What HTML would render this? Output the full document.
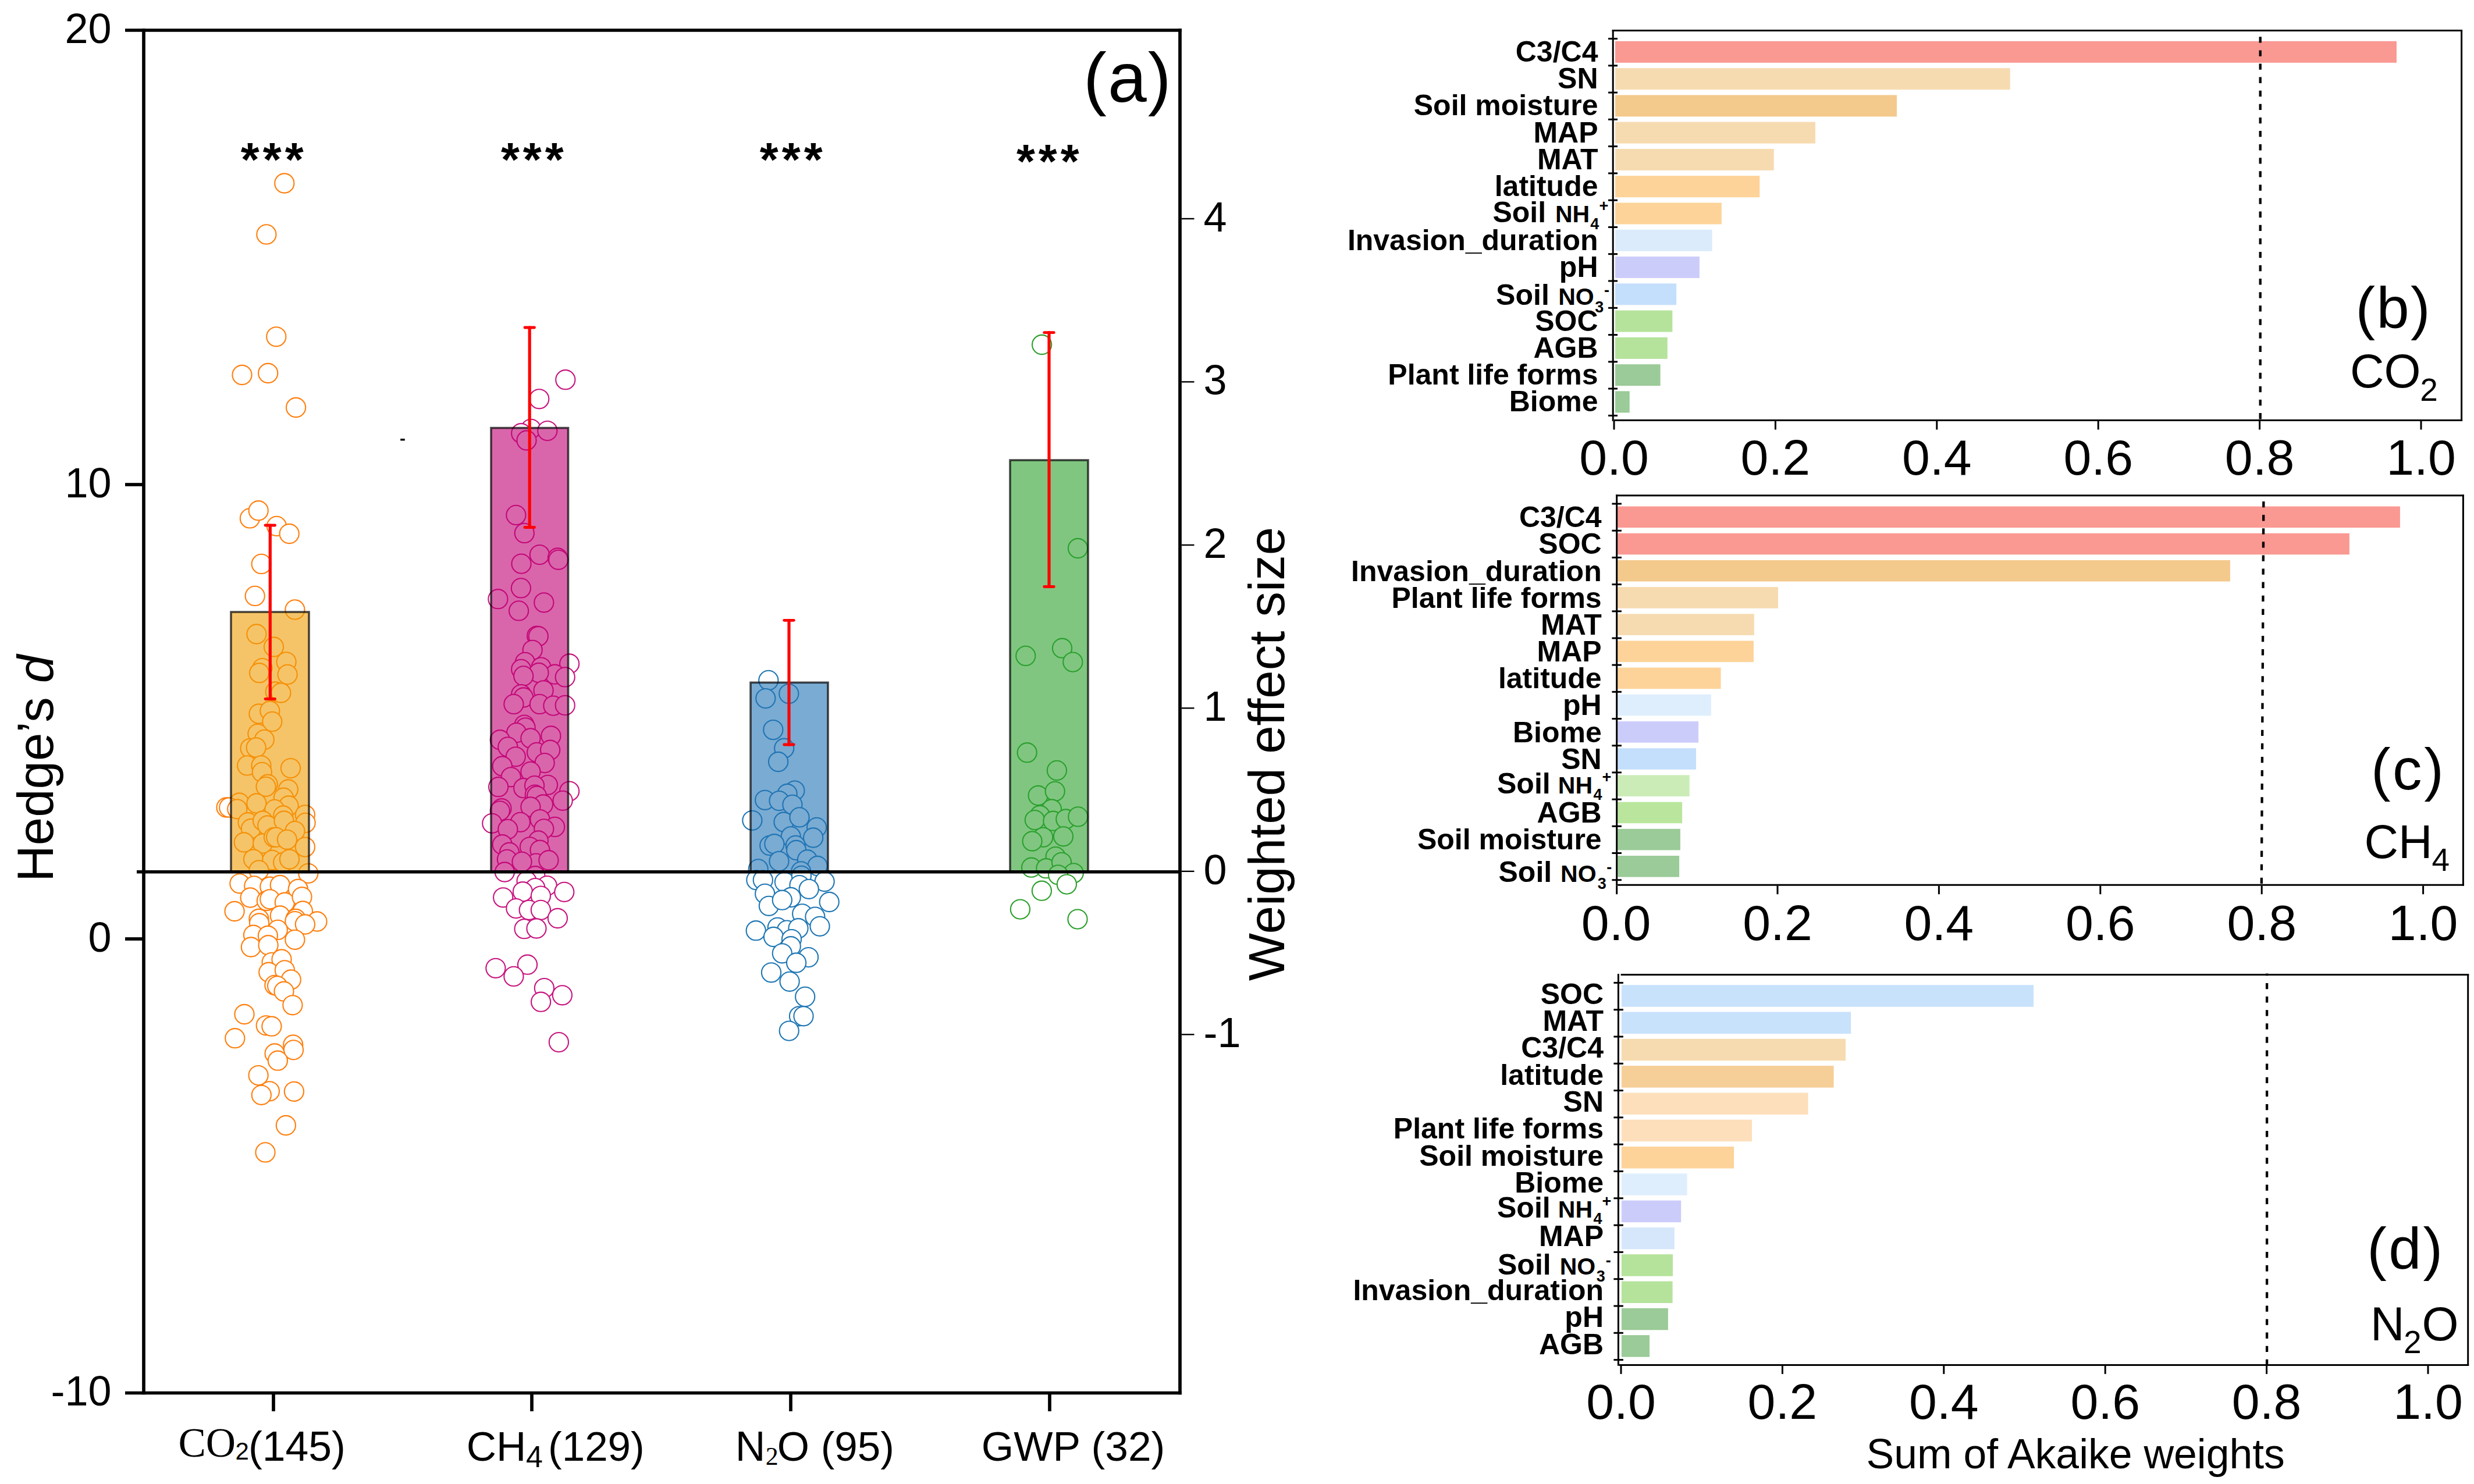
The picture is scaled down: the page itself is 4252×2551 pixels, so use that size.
<!DOCTYPE html>
<html><head><meta charset="utf-8"><title>Figure</title>
<style>
html,body{margin:0;padding:0;background:#fff;}
body{width:4252px;height:2551px;overflow:hidden;}
svg{display:block;}
</style></head>
<body>
<svg width="4252" height="2551" viewBox="0 0 4252 2551">
<rect x="0" y="0" width="4252" height="2551" fill="#fff"/>
<g fill="#fff" stroke="#ff7f0e" stroke-width="2.1">
<circle cx="488.8" cy="315" r="16.6"/>
<circle cx="457.9" cy="402.9" r="16.6"/>
<circle cx="474.8" cy="578.8" r="16.6"/>
<circle cx="416" cy="644.5" r="16.6"/>
<circle cx="460.7" cy="641.5" r="16.6"/>
<circle cx="508.6" cy="700.5" r="16.6"/>
<circle cx="429.4" cy="890.9" r="16.6"/>
<circle cx="444.2" cy="877.7" r="16.6"/>
<circle cx="475.5" cy="904.4" r="16.6"/>
<circle cx="497.2" cy="917.5" r="16.6"/>
<circle cx="449.2" cy="969.4" r="16.6"/>
<circle cx="438.2" cy="1024.4" r="16.6"/>
<circle cx="506.9" cy="1047.9" r="16.6"/>
<circle cx="440.9" cy="1090" r="16.6"/>
<circle cx="470.5" cy="1112" r="16.6"/>
<circle cx="492.1" cy="1137.8" r="16.6"/>
<circle cx="451" cy="1148.6" r="16.6"/>
<circle cx="445.6" cy="1156.7" r="16.6"/>
<circle cx="494.1" cy="1159.4" r="16.6"/>
<circle cx="473.2" cy="1189" r="16.6"/>
<circle cx="482.9" cy="1191" r="16.6"/>
<circle cx="444.9" cy="1227" r="16.6"/>
<circle cx="463.8" cy="1222" r="16.6"/>
<circle cx="467.8" cy="1240.4" r="16.6"/>
<circle cx="442.9" cy="1261.3" r="16.6"/>
<circle cx="454.3" cy="1271.4" r="16.6"/>
<circle cx="430.1" cy="1286.3" r="16.6"/>
<circle cx="440.2" cy="1284.9" r="16.6"/>
<circle cx="424.7" cy="1315.9" r="16.6"/>
<circle cx="449" cy="1315.9" r="16.6"/>
<circle cx="450.3" cy="1327.4" r="16.6"/>
<circle cx="499.5" cy="1320.6" r="16.6"/>
<circle cx="460.4" cy="1348.2" r="16.6"/>
<circle cx="457" cy="1352.3" r="16.6"/>
<circle cx="495.4" cy="1357" r="16.6"/>
<circle cx="487.4" cy="1371.2" r="16.6"/>
<circle cx="411.2" cy="1380" r="16.6"/>
<circle cx="440.9" cy="1381" r="16.6"/>
<circle cx="496.1" cy="1385" r="16.6"/>
<circle cx="389" cy="1388" r="16.6"/>
<circle cx="393.7" cy="1388" r="16.6"/>
<circle cx="471.9" cy="1391.4" r="16.6"/>
<circle cx="486.7" cy="1402" r="16.6"/>
<circle cx="524.4" cy="1400.8" r="16.6"/>
<circle cx="407.8" cy="1390.8" r="16.6"/>
<circle cx="426" cy="1413.7" r="16.6"/>
<circle cx="431.4" cy="1424.5" r="16.6"/>
<circle cx="451.6" cy="1411" r="16.6"/>
<circle cx="459.7" cy="1419" r="16.6"/>
<circle cx="488" cy="1411" r="16.6"/>
<circle cx="525.1" cy="1414.4" r="16.6"/>
<circle cx="506.9" cy="1428.5" r="16.6"/>
<circle cx="419.3" cy="1448" r="16.6"/>
<circle cx="451.6" cy="1450" r="16.6"/>
<circle cx="470.5" cy="1439.3" r="16.6"/>
<circle cx="474.6" cy="1439.3" r="16.6"/>
<circle cx="493.4" cy="1443.3" r="16.6"/>
<circle cx="524.4" cy="1456.1" r="16.6"/>
<circle cx="435.5" cy="1477" r="16.6"/>
<circle cx="467.8" cy="1478.4" r="16.6"/>
<circle cx="486.7" cy="1482.4" r="16.6"/>
<circle cx="497.5" cy="1477" r="16.6"/>
<circle cx="444.9" cy="1495.9" r="16.6"/>
<circle cx="529.8" cy="1501.3" r="16.6"/>
<circle cx="411.9" cy="1518.8" r="16.6"/>
<circle cx="436.8" cy="1522.9" r="16.6"/>
<circle cx="463.8" cy="1524.2" r="16.6"/>
<circle cx="481.3" cy="1521.5" r="16.6"/>
<circle cx="512.3" cy="1528.2" r="16.6"/>
<circle cx="430.1" cy="1543" r="16.6"/>
<circle cx="458.4" cy="1548.5" r="16.6"/>
<circle cx="463.8" cy="1545.8" r="16.6"/>
<circle cx="489.4" cy="1551.2" r="16.6"/>
<circle cx="519" cy="1541.7" r="16.6"/>
<circle cx="403.1" cy="1566.5" r="16.6"/>
<circle cx="444.9" cy="1579.5" r="16.6"/>
<circle cx="481.3" cy="1574" r="16.6"/>
<circle cx="520.4" cy="1566" r="16.6"/>
<circle cx="508.2" cy="1579.5" r="16.6"/>
<circle cx="545" cy="1584" r="16.6"/>
<circle cx="445.6" cy="1587" r="16.6"/>
<circle cx="506.9" cy="1583.6" r="16.6"/>
<circle cx="524.4" cy="1589" r="16.6"/>
<circle cx="477.3" cy="1598.4" r="16.6"/>
<circle cx="435.5" cy="1607.2" r="16.6"/>
<circle cx="460.4" cy="1608.5" r="16.6"/>
<circle cx="506.9" cy="1615.3" r="16.6"/>
<circle cx="431.4" cy="1628" r="16.6"/>
<circle cx="461.1" cy="1624.7" r="16.6"/>
<circle cx="467.1" cy="1654.3" r="16.6"/>
<circle cx="484" cy="1649" r="16.6"/>
<circle cx="461.8" cy="1671.2" r="16.6"/>
<circle cx="489.4" cy="1667.8" r="16.6"/>
<circle cx="500.2" cy="1684" r="16.6"/>
<circle cx="471.9" cy="1693.4" r="16.6"/>
<circle cx="476.6" cy="1694.8" r="16.6"/>
<circle cx="488" cy="1704.2" r="16.6"/>
<circle cx="502.9" cy="1727.8" r="16.6"/>
<circle cx="420" cy="1743.5" r="16.6"/>
<circle cx="457.2" cy="1762.8" r="16.6"/>
<circle cx="466.9" cy="1764.2" r="16.6"/>
<circle cx="403.8" cy="1784.7" r="16.6"/>
<circle cx="503.7" cy="1796" r="16.6"/>
<circle cx="504.5" cy="1804.8" r="16.6"/>
<circle cx="472.1" cy="1811" r="16.6"/>
<circle cx="477.4" cy="1823.2" r="16.6"/>
<circle cx="444.1" cy="1848.6" r="16.6"/>
<circle cx="463.4" cy="1875.8" r="16.6"/>
<circle cx="449.3" cy="1882.3" r="16.6"/>
<circle cx="505.4" cy="1876.3" r="16.6"/>
<circle cx="491.4" cy="1934.5" r="16.6"/>
<circle cx="456" cy="1980.9" r="16.6"/>
</g>
<g fill="#fff" stroke="#c7157f" stroke-width="2.1">
<circle cx="971.8" cy="652.7" r="16.6"/>
<circle cx="926.7" cy="685.8" r="16.6"/>
<circle cx="912.5" cy="737.3" r="16.6"/>
<circle cx="895.7" cy="744.7" r="16.6"/>
<circle cx="940.8" cy="740.6" r="16.6"/>
<circle cx="905" cy="757" r="16.6"/>
<circle cx="886.9" cy="885.4" r="16.6"/>
<circle cx="901.3" cy="916.4" r="16.6"/>
<circle cx="927.4" cy="953.6" r="16.6"/>
<circle cx="958.4" cy="959" r="16.6"/>
<circle cx="959.7" cy="962.3" r="16.6"/>
<circle cx="896" cy="969.1" r="16.6"/>
<circle cx="895.4" cy="1010.9" r="16.6"/>
<circle cx="855.9" cy="1029.7" r="16.6"/>
<circle cx="934.8" cy="1035.8" r="16.6"/>
<circle cx="891.6" cy="1049.9" r="16.6"/>
<circle cx="922.6" cy="1093.1" r="16.6"/>
<circle cx="925.3" cy="1093.7" r="16.6"/>
<circle cx="915.2" cy="1117.3" r="16.6"/>
<circle cx="902.4" cy="1138.3" r="16.6"/>
<circle cx="895.7" cy="1150.4" r="16.6"/>
<circle cx="978.6" cy="1141" r="16.6"/>
<circle cx="930" cy="1147.1" r="16.6"/>
<circle cx="953.6" cy="1159.2" r="16.6"/>
<circle cx="926" cy="1156.5" r="16.6"/>
<circle cx="899.7" cy="1161.9" r="16.6"/>
<circle cx="971.2" cy="1163.9" r="16.6"/>
<circle cx="934.1" cy="1186.8" r="16.6"/>
<circle cx="895.7" cy="1193.6" r="16.6"/>
<circle cx="899.7" cy="1199" r="16.6"/>
<circle cx="882.9" cy="1210.4" r="16.6"/>
<circle cx="927.4" cy="1210.4" r="16.6"/>
<circle cx="950.9" cy="1213.1" r="16.6"/>
<circle cx="971.2" cy="1212.4" r="16.6"/>
<circle cx="901.1" cy="1246.1" r="16.6"/>
<circle cx="903.1" cy="1250.8" r="16.6"/>
<circle cx="887.6" cy="1259.6" r="16.6"/>
<circle cx="911.9" cy="1269" r="16.6"/>
<circle cx="946.9" cy="1265" r="16.6"/>
<circle cx="859.3" cy="1271.7" r="16.6"/>
<circle cx="872.8" cy="1283.9" r="16.6"/>
<circle cx="922.6" cy="1293.3" r="16.6"/>
<circle cx="945.6" cy="1289.2" r="16.6"/>
<circle cx="886.3" cy="1300.8" r="16.6"/>
<circle cx="936.1" cy="1311.6" r="16.6"/>
<circle cx="863.3" cy="1317" r="16.6"/>
<circle cx="878.2" cy="1335.8" r="16.6"/>
<circle cx="911.9" cy="1326.4" r="16.6"/>
<circle cx="941.5" cy="1349.3" r="16.6"/>
<circle cx="856.6" cy="1352.7" r="16.6"/>
<circle cx="899.7" cy="1354.7" r="16.6"/>
<circle cx="918.6" cy="1350.6" r="16.6"/>
<circle cx="919.3" cy="1366.1" r="16.6"/>
<circle cx="922.6" cy="1368.2" r="16.6"/>
<circle cx="978.6" cy="1360.1" r="16.6"/>
<circle cx="967.1" cy="1376.3" r="16.6"/>
<circle cx="933.4" cy="1383" r="16.6"/>
<circle cx="911.9" cy="1387" r="16.6"/>
<circle cx="862" cy="1389.7" r="16.6"/>
<circle cx="859.3" cy="1393.8" r="16.6"/>
<circle cx="894.3" cy="1413.3" r="16.6"/>
<circle cx="845.8" cy="1415.3" r="16.6"/>
<circle cx="872.8" cy="1425.4" r="16.6"/>
<circle cx="928" cy="1408.6" r="16.6"/>
<circle cx="953.6" cy="1421.4" r="16.6"/>
<circle cx="934.8" cy="1424.8" r="16.6"/>
<circle cx="925.3" cy="1445" r="16.6"/>
<circle cx="910.5" cy="1455.8" r="16.6"/>
<circle cx="928" cy="1461.2" r="16.6"/>
<circle cx="863.3" cy="1451.7" r="16.6"/>
<circle cx="875.5" cy="1465.2" r="16.6"/>
<circle cx="871.4" cy="1477.3" r="16.6"/>
<circle cx="921.3" cy="1484.1" r="16.6"/>
<circle cx="942.9" cy="1478.7" r="16.6"/>
<circle cx="897" cy="1481.4" r="16.6"/>
<circle cx="867.4" cy="1499" r="16.6"/>
<circle cx="919.9" cy="1505.7" r="16.6"/>
<circle cx="905.1" cy="1514.5" r="16.6"/>
<circle cx="940.2" cy="1522.6" r="16.6"/>
<circle cx="919.9" cy="1526.6" r="16.6"/>
<circle cx="898.4" cy="1532.7" r="16.6"/>
<circle cx="969.8" cy="1533.3" r="16.6"/>
<circle cx="864.7" cy="1542.8" r="16.6"/>
<circle cx="929.4" cy="1540.1" r="16.6"/>
<circle cx="886.9" cy="1561.6" r="16.6"/>
<circle cx="909.2" cy="1564.3" r="16.6"/>
<circle cx="929.4" cy="1564.3" r="16.6"/>
<circle cx="958.4" cy="1578.5" r="16.6"/>
<circle cx="901.1" cy="1596.7" r="16.6"/>
<circle cx="922" cy="1596" r="16.6"/>
<circle cx="851.9" cy="1664.3" r="16.6"/>
<circle cx="906.5" cy="1658.2" r="16.6"/>
<circle cx="882.9" cy="1678.4" r="16.6"/>
<circle cx="935.4" cy="1698.6" r="16.6"/>
<circle cx="966.4" cy="1710.8" r="16.6"/>
<circle cx="929.6" cy="1722.2" r="16.6"/>
<circle cx="960.4" cy="1791.6" r="16.6"/>
</g>
<g fill="#fff" stroke="#1f77b4" stroke-width="2.1">
<circle cx="1320.8" cy="1169.4" r="16.6"/>
<circle cx="1315.8" cy="1200.6" r="16.6"/>
<circle cx="1355.8" cy="1192.6" r="16.6"/>
<circle cx="1328.8" cy="1254.6" r="16.6"/>
<circle cx="1347.7" cy="1286.2" r="16.6"/>
<circle cx="1337.6" cy="1309.5" r="16.6"/>
<circle cx="1365.9" cy="1359.1" r="16.6"/>
<circle cx="1353.1" cy="1364.5" r="16.6"/>
<circle cx="1314.7" cy="1375.3" r="16.6"/>
<circle cx="1339" cy="1376.6" r="16.6"/>
<circle cx="1361.9" cy="1383.3" r="16.6"/>
<circle cx="1292.9" cy="1410.3" r="16.6"/>
<circle cx="1347" cy="1413" r="16.6"/>
<circle cx="1374" cy="1404.9" r="16.6"/>
<circle cx="1403.6" cy="1422.4" r="16.6"/>
<circle cx="1359.2" cy="1437.9" r="16.6"/>
<circle cx="1397.6" cy="1440" r="16.6"/>
<circle cx="1322.8" cy="1453.4" r="16.6"/>
<circle cx="1330.9" cy="1450.7" r="16.6"/>
<circle cx="1367.3" cy="1453.4" r="16.6"/>
<circle cx="1368.6" cy="1461.5" r="16.6"/>
<circle cx="1339" cy="1480.4" r="16.6"/>
<circle cx="1387.5" cy="1477.7" r="16.6"/>
<circle cx="1405" cy="1488.5" r="16.6"/>
<circle cx="1303.2" cy="1493.9" r="16.6"/>
<circle cx="1376.7" cy="1497.9" r="16.6"/>
<circle cx="1299.9" cy="1512.8" r="16.6"/>
<circle cx="1311.3" cy="1512.8" r="16.6"/>
<circle cx="1348.4" cy="1516.2" r="16.6"/>
<circle cx="1377.4" cy="1505.4" r="16.6"/>
<circle cx="1417.1" cy="1515.5" r="16.6"/>
<circle cx="1374" cy="1521.6" r="16.6"/>
<circle cx="1390.2" cy="1528.3" r="16.6"/>
<circle cx="1314.7" cy="1536.4" r="16.6"/>
<circle cx="1359.2" cy="1542.5" r="16.6"/>
<circle cx="1425.2" cy="1550.5" r="16.6"/>
<circle cx="1321.4" cy="1557.3" r="16.6"/>
<circle cx="1344.3" cy="1547.2" r="16.6"/>
<circle cx="1378.7" cy="1570.8" r="16.6"/>
<circle cx="1400.9" cy="1576.1" r="16.6"/>
<circle cx="1299.2" cy="1599.7" r="16.6"/>
<circle cx="1336.3" cy="1594.3" r="16.6"/>
<circle cx="1352.4" cy="1599.1" r="16.6"/>
<circle cx="1372" cy="1595.7" r="16.6"/>
<circle cx="1409" cy="1592.3" r="16.6"/>
<circle cx="1329.5" cy="1610.5" r="16.6"/>
<circle cx="1360.5" cy="1614.6" r="16.6"/>
<circle cx="1359.2" cy="1626.7" r="16.6"/>
<circle cx="1344.3" cy="1638.8" r="16.6"/>
<circle cx="1389.5" cy="1645.6" r="16.6"/>
<circle cx="1368.6" cy="1655" r="16.6"/>
<circle cx="1325.5" cy="1671.8" r="16.6"/>
<circle cx="1357.1" cy="1687.3" r="16.6"/>
<circle cx="1383.7" cy="1713.4" r="16.6"/>
<circle cx="1373.5" cy="1746.8" r="16.6"/>
<circle cx="1381" cy="1746.8" r="16.6"/>
<circle cx="1356.2" cy="1772.1" r="16.6"/>
</g>
<g fill="#fff" stroke="#2ca02c" stroke-width="2.1">
<circle cx="1790.6" cy="592.5" r="16.6"/>
<circle cx="1852.5" cy="942.5" r="16.6"/>
<circle cx="1762.8" cy="1127.4" r="16.6"/>
<circle cx="1825.5" cy="1114.2" r="16.6"/>
<circle cx="1843.8" cy="1138.1" r="16.6"/>
<circle cx="1765.2" cy="1293.7" r="16.6"/>
<circle cx="1816.4" cy="1324.4" r="16.6"/>
<circle cx="1784.1" cy="1367.5" r="16.6"/>
<circle cx="1813.2" cy="1360.3" r="16.6"/>
<circle cx="1807.5" cy="1391" r="16.6"/>
<circle cx="1787.3" cy="1401.5" r="16.6"/>
<circle cx="1778.4" cy="1409.6" r="16.6"/>
<circle cx="1809.9" cy="1411.2" r="16.6"/>
<circle cx="1831.8" cy="1408" r="16.6"/>
<circle cx="1852.8" cy="1403.9" r="16.6"/>
<circle cx="1792.7" cy="1439.3" r="16.6"/>
<circle cx="1774.1" cy="1446" r="16.6"/>
<circle cx="1827.5" cy="1437.8" r="16.6"/>
<circle cx="1814.2" cy="1472.6" r="16.6"/>
<circle cx="1772.6" cy="1491.2" r="16.6"/>
<circle cx="1797.9" cy="1492.7" r="16.6"/>
<circle cx="1824.5" cy="1482.3" r="16.6"/>
<circle cx="1845.3" cy="1500.8" r="16.6"/>
<circle cx="1818.6" cy="1503.8" r="16.6"/>
<circle cx="1833.4" cy="1520.1" r="16.6"/>
<circle cx="1790.4" cy="1531.2" r="16.6"/>
<circle cx="1753.4" cy="1563.1" r="16.6"/>
<circle cx="1852" cy="1580.1" r="16.6"/>
</g>
<rect x="397.0" y="1052.0" width="134.0" height="446.5" fill="#ee9d05" fill-opacity="0.6" stroke="#000" stroke-opacity="0.7" stroke-width="3.6"/>
<rect x="844.0" y="735.6" width="132.5" height="762.9" fill="#c00073" fill-opacity="0.6" stroke="#000" stroke-opacity="0.7" stroke-width="3.6"/>
<rect x="1290.0" y="1173.3" width="133.0" height="325.2" fill="#2173b4" fill-opacity="0.6" stroke="#000" stroke-opacity="0.7" stroke-width="3.6"/>
<rect x="1736.0" y="791.0" width="134.0" height="707.5" fill="#2ba02d" fill-opacity="0.6" stroke="#000" stroke-opacity="0.7" stroke-width="3.6"/>
<line x1="235.0" y1="1498.7" x2="2028.0" y2="1498.7" stroke="#000" stroke-width="5.4" />
<g stroke="#ff0000" stroke-linecap="round">
<line x1="464.3" y1="903.0" x2="464.3" y2="1201.5" stroke="#ff0000" stroke-width="5.2" />
<line x1="456.0" y1="903.0" x2="472.6" y2="903.0" stroke="#ff0000" stroke-width="4.8" />
<line x1="456.0" y1="1201.5" x2="472.6" y2="1201.5" stroke="#ff0000" stroke-width="4.8" />
</g>
<g stroke="#ff0000" stroke-linecap="round">
<line x1="910.2" y1="563.0" x2="910.2" y2="906.5" stroke="#ff0000" stroke-width="5.2" />
<line x1="901.9" y1="563.0" x2="918.5" y2="563.0" stroke="#ff0000" stroke-width="4.8" />
<line x1="901.9" y1="906.5" x2="918.5" y2="906.5" stroke="#ff0000" stroke-width="4.8" />
</g>
<g stroke="#ff0000" stroke-linecap="round">
<line x1="1356.0" y1="1066.3" x2="1356.0" y2="1280.0" stroke="#ff0000" stroke-width="5.2" />
<line x1="1347.7" y1="1066.3" x2="1364.3" y2="1066.3" stroke="#ff0000" stroke-width="4.8" />
<line x1="1347.7" y1="1280.0" x2="1364.3" y2="1280.0" stroke="#ff0000" stroke-width="4.8" />
</g>
<g stroke="#ff0000" stroke-linecap="round">
<line x1="1803.0" y1="571.7" x2="1803.0" y2="1008.5" stroke="#ff0000" stroke-width="5.2" />
<line x1="1794.7" y1="571.7" x2="1811.3" y2="571.7" stroke="#ff0000" stroke-width="4.8" />
<line x1="1794.7" y1="1008.5" x2="1811.3" y2="1008.5" stroke="#ff0000" stroke-width="4.8" />
</g>
<g stroke="#000" stroke-width="5.7" stroke-linecap="butt">
<line x1="247.0" y1="49.2" x2="247.0" y2="2397.3" stroke="#000" stroke-width="5.7" />
<line x1="2028.0" y1="49.2" x2="2028.0" y2="2397.3" stroke="#000" stroke-width="5.7" />
<line x1="215.0" y1="52.0" x2="2030.8" y2="52.0" stroke="#000" stroke-width="5.7" />
<line x1="215.0" y1="2394.5" x2="2030.8" y2="2394.5" stroke="#000" stroke-width="5.7" />
<line x1="215.0" y1="833.0" x2="247.0" y2="833.0" stroke="#000" stroke-width="5.7" />
<line x1="215.0" y1="1614.0" x2="247.0" y2="1614.0" stroke="#000" stroke-width="5.7" />
<line x1="470.0" y1="2397.0" x2="470.0" y2="2426.0" stroke="#000" stroke-width="5.7" />
<line x1="914.0" y1="2397.0" x2="914.0" y2="2426.0" stroke="#000" stroke-width="5.7" />
<line x1="1359.0" y1="2397.0" x2="1359.0" y2="2426.0" stroke="#000" stroke-width="5.7" />
<line x1="1804.0" y1="2397.0" x2="1804.0" y2="2426.0" stroke="#000" stroke-width="5.7" />
</g>
<line x1="2030.8" y1="1778.3" x2="2052.5" y2="1778.3" stroke="#000" stroke-width="2.4" />
<line x1="2030.8" y1="1497.8" x2="2052.5" y2="1497.8" stroke="#000" stroke-width="2.4" />
<line x1="2030.8" y1="1217.3" x2="2052.5" y2="1217.3" stroke="#000" stroke-width="2.4" />
<line x1="2030.8" y1="936.9" x2="2052.5" y2="936.9" stroke="#000" stroke-width="2.4" />
<line x1="2030.8" y1="656.4" x2="2052.5" y2="656.4" stroke="#000" stroke-width="2.4" />
<line x1="2030.8" y1="376.0" x2="2052.5" y2="376.0" stroke="#000" stroke-width="2.4" />
<text x="191.5" y="73.5" font-family="'Liberation Sans', Arial, sans-serif" font-size="72" font-weight="normal" text-anchor="end" >20</text>
<text x="191.5" y="854.5" font-family="'Liberation Sans', Arial, sans-serif" font-size="72" font-weight="normal" text-anchor="end" >10</text>
<text x="191.5" y="1635.5" font-family="'Liberation Sans', Arial, sans-serif" font-size="72" font-weight="normal" text-anchor="end" >0</text>
<text x="191.5" y="2416.0" font-family="'Liberation Sans', Arial, sans-serif" font-size="72" font-weight="normal" text-anchor="end" >-10</text>
<text x="2068.5" y="1800.1" font-family="'Liberation Sans', Arial, sans-serif" font-size="72" font-weight="normal" text-anchor="start" >-1</text>
<text x="2068.5" y="1519.6" font-family="'Liberation Sans', Arial, sans-serif" font-size="72" font-weight="normal" text-anchor="start" >0</text>
<text x="2068.5" y="1239.1" font-family="'Liberation Sans', Arial, sans-serif" font-size="72" font-weight="normal" text-anchor="start" >1</text>
<text x="2068.5" y="958.7" font-family="'Liberation Sans', Arial, sans-serif" font-size="72" font-weight="normal" text-anchor="start" >2</text>
<text x="2068.5" y="678.2" font-family="'Liberation Sans', Arial, sans-serif" font-size="72" font-weight="normal" text-anchor="start" >3</text>
<text x="2068.5" y="397.8" font-family="'Liberation Sans', Arial, sans-serif" font-size="72" font-weight="normal" text-anchor="start" >4</text>
<text transform="translate(91,1516) rotate(-90)" font-family="'Liberation Sans', Arial, sans-serif" font-size="87">Hedge’s <tspan font-style="italic">d</tspan></text>
<text transform="translate(2207,1686) rotate(-90)" font-family="'Liberation Sans', Arial, sans-serif" font-size="87">Weighted effect size</text>
<text x="470.7" y="302.4" font-family="'Liberation Sans', Arial, sans-serif" font-size="82" font-weight="bold" text-anchor="middle" letter-spacing="6">***</text>
<text x="917.8" y="302.4" font-family="'Liberation Sans', Arial, sans-serif" font-size="82" font-weight="bold" text-anchor="middle" letter-spacing="6">***</text>
<text x="1362.7" y="302.2" font-family="'Liberation Sans', Arial, sans-serif" font-size="82" font-weight="bold" text-anchor="middle" letter-spacing="6">***</text>
<text x="1803.8" y="305.1" font-family="'Liberation Sans', Arial, sans-serif" font-size="82" font-weight="bold" text-anchor="middle" letter-spacing="6">***</text>
<text x="1862.0" y="175.0" font-family="'Liberation Sans', Arial, sans-serif" font-size="120" font-weight="normal" text-anchor="start" letter-spacing="2">(a)</text>
<text x="306.4" y="2504" font-family="'Liberation Serif', 'Times New Roman', serif" font-size="71">CO</text>
<text x="404.4" y="2509.0" font-family="'Liberation Sans', Arial, sans-serif" font-size="42" font-weight="normal" text-anchor="start" >2</text>
<text x="427.0" y="2511.0" font-family="'Liberation Sans', Arial, sans-serif" font-size="71.5" font-weight="normal" text-anchor="start" >(145)</text>
<text x="801.7" y="2511.0" font-family="'Liberation Sans', Arial, sans-serif" font-size="71" font-weight="normal" text-anchor="start" >CH</text>
<text x="904.0" y="2522.0" font-family="'Liberation Sans', Arial, sans-serif" font-size="52" font-weight="normal" text-anchor="start" >4</text>
<text x="942.0" y="2511.0" font-family="'Liberation Sans', Arial, sans-serif" font-size="71" font-weight="normal" text-anchor="start" >(129)</text>
<text x="1263.8" y="2511.0" font-family="'Liberation Sans', Arial, sans-serif" font-size="71.5" font-weight="normal" text-anchor="start" >N</text>
<text x="1315.7" y="2518" font-family="'Liberation Serif', 'Times New Roman', serif" font-size="44">2</text>
<text x="1335.7" y="2511.0" font-family="'Liberation Sans', Arial, sans-serif" font-size="71" font-weight="normal" text-anchor="start" >O (95)</text>
<text x="1686.7" y="2511.0" font-family="'Liberation Sans', Arial, sans-serif" font-size="71.3" font-weight="normal" text-anchor="start" >GWP (32)</text>
<line x1="688.2" y1="755.8" x2="695.8" y2="755.8" stroke="#000" stroke-width="3.4" />
<rect x="2776.0" y="70.8" width="1342.9" height="37.0" fill="#fa9892" />
<rect x="2776.0" y="117.1" width="678.7" height="37.0" fill="#f7dbb0" />
<rect x="2776.0" y="163.4" width="484.0" height="37.0" fill="#f4c98c" />
<rect x="2776.0" y="209.6" width="344.0" height="37.0" fill="#f7dbb0" />
<rect x="2776.0" y="255.9" width="272.7" height="37.0" fill="#f7dbb0" />
<rect x="2776.0" y="302.2" width="248.3" height="37.0" fill="#fdd399" />
<rect x="2776.0" y="348.5" width="182.8" height="37.0" fill="#fdd399" />
<rect x="2776.0" y="394.8" width="166.5" height="37.0" fill="#dbebfc" />
<rect x="2776.0" y="441.0" width="144.9" height="37.0" fill="#ccccfb" />
<rect x="2776.0" y="487.3" width="105.1" height="37.0" fill="#c4dffc" />
<rect x="2776.0" y="533.6" width="98.3" height="37.0" fill="#b5e39b" />
<rect x="2776.0" y="579.9" width="89.8" height="37.0" fill="#b5e39b" />
<rect x="2776.0" y="626.2" width="77.6" height="37.0" fill="#9bcb98" />
<rect x="2776.0" y="672.4" width="24.7" height="37.0" fill="#9bcb98" />
<line x1="3884.7" y1="50.5" x2="3884.7" y2="722.5" stroke="#000" stroke-width="4.3" stroke-dasharray="10.3 12.8" stroke-dashoffset="-12.8"/>
<g stroke="#000" stroke-width="3">
<line x1="2772.2" y1="51.0" x2="2772.2" y2="724.0" stroke="#000" stroke-width="3" />
<line x1="2770.7" y1="52.5" x2="4232.1" y2="52.5" stroke="#000" stroke-width="3" />
<line x1="4230.6" y1="51.0" x2="4230.6" y2="724.0" stroke="#000" stroke-width="3" />
<line x1="2773.7" y1="722.5" x2="4232.1" y2="722.5" stroke="#000" stroke-width="3" />
<line x1="2764.0" y1="66.5" x2="2780.0" y2="66.5" stroke="#000" stroke-width="3" />
<line x1="2764.0" y1="112.8" x2="2780.0" y2="112.8" stroke="#000" stroke-width="3" />
<line x1="2764.0" y1="159.1" x2="2780.0" y2="159.1" stroke="#000" stroke-width="3" />
<line x1="2764.0" y1="205.3" x2="2780.0" y2="205.3" stroke="#000" stroke-width="3" />
<line x1="2764.0" y1="251.6" x2="2780.0" y2="251.6" stroke="#000" stroke-width="3" />
<line x1="2764.0" y1="297.9" x2="2780.0" y2="297.9" stroke="#000" stroke-width="3" />
<line x1="2764.0" y1="344.2" x2="2780.0" y2="344.2" stroke="#000" stroke-width="3" />
<line x1="2764.0" y1="390.5" x2="2780.0" y2="390.5" stroke="#000" stroke-width="3" />
<line x1="2764.0" y1="436.7" x2="2780.0" y2="436.7" stroke="#000" stroke-width="3" />
<line x1="2764.0" y1="483.0" x2="2780.0" y2="483.0" stroke="#000" stroke-width="3" />
<line x1="2764.0" y1="529.3" x2="2780.0" y2="529.3" stroke="#000" stroke-width="3" />
<line x1="2764.0" y1="575.6" x2="2780.0" y2="575.6" stroke="#000" stroke-width="3" />
<line x1="2764.0" y1="621.9" x2="2780.0" y2="621.9" stroke="#000" stroke-width="3" />
<line x1="2764.0" y1="668.1" x2="2780.0" y2="668.1" stroke="#000" stroke-width="3" />
<line x1="2764.0" y1="714.4" x2="2780.0" y2="714.4" stroke="#000" stroke-width="3" />
<line x1="2774.0" y1="724.0" x2="2774.0" y2="738.5" stroke="#000" stroke-width="3" />
<line x1="3051.4" y1="724.0" x2="3051.4" y2="738.5" stroke="#000" stroke-width="3" />
<line x1="3328.8" y1="724.0" x2="3328.8" y2="738.5" stroke="#000" stroke-width="3" />
<line x1="3606.2" y1="724.0" x2="3606.2" y2="738.5" stroke="#000" stroke-width="3" />
<line x1="3883.6" y1="724.0" x2="3883.6" y2="738.5" stroke="#000" stroke-width="3" />
<line x1="4161.0" y1="724.0" x2="4161.0" y2="738.5" stroke="#000" stroke-width="3" />
</g>
<text x="2774.0" y="815.8" font-family="'Liberation Sans', Arial, sans-serif" font-size="86" font-weight="normal" text-anchor="middle" >0.0</text>
<text x="3051.4" y="815.8" font-family="'Liberation Sans', Arial, sans-serif" font-size="86" font-weight="normal" text-anchor="middle" >0.2</text>
<text x="3328.8" y="815.8" font-family="'Liberation Sans', Arial, sans-serif" font-size="86" font-weight="normal" text-anchor="middle" >0.4</text>
<text x="3606.2" y="815.8" font-family="'Liberation Sans', Arial, sans-serif" font-size="86" font-weight="normal" text-anchor="middle" >0.6</text>
<text x="3883.6" y="815.8" font-family="'Liberation Sans', Arial, sans-serif" font-size="86" font-weight="normal" text-anchor="middle" >0.8</text>
<text x="4161.0" y="815.8" font-family="'Liberation Sans', Arial, sans-serif" font-size="86" font-weight="normal" text-anchor="middle" >1.0</text>
<text x="2746.5" y="105.8" font-family="'Liberation Sans', Arial, sans-serif" font-size="50" font-weight="bold" text-anchor="end" >C3/C4</text>
<text x="2746.5" y="152.1" font-family="'Liberation Sans', Arial, sans-serif" font-size="50" font-weight="bold" text-anchor="end" >SN</text>
<text x="2746.5" y="198.4" font-family="'Liberation Sans', Arial, sans-serif" font-size="50" font-weight="bold" text-anchor="end" >Soil moisture</text>
<text x="2746.5" y="244.6" font-family="'Liberation Sans', Arial, sans-serif" font-size="50" font-weight="bold" text-anchor="end" >MAP</text>
<text x="2746.5" y="290.9" font-family="'Liberation Sans', Arial, sans-serif" font-size="50" font-weight="bold" text-anchor="end" >MAT</text>
<text x="2746.5" y="337.2" font-family="'Liberation Sans', Arial, sans-serif" font-size="50" font-weight="bold" text-anchor="end" >latitude</text>
<g font-family="'Liberation Sans', Arial, sans-serif" font-weight="bold"><text x="2565.4" y="381.9" font-size="50">Soil</text><text x="2672.9" y="381.9" font-size="41">NH</text><text x="2733.2" y="393.7" font-size="27">4</text><text x="2748.4" y="363.2" font-size="27">+</text></g>
<text x="2746.5" y="429.8" font-family="'Liberation Sans', Arial, sans-serif" font-size="50" font-weight="bold" text-anchor="end" >Invasion_duration</text>
<text x="2746.5" y="476.0" font-family="'Liberation Sans', Arial, sans-serif" font-size="50" font-weight="bold" text-anchor="end" >pH</text>
<g font-family="'Liberation Sans', Arial, sans-serif" font-weight="bold"><text x="2571.1" y="523.5" font-size="50">Soil</text><text x="2678.2" y="523.5" font-size="41">NO</text><text x="2741.3" y="536.5" font-size="27">3</text><text x="2756.9" y="508.4" font-size="27">-</text></g>
<text x="2746.5" y="568.6" font-family="'Liberation Sans', Arial, sans-serif" font-size="50" font-weight="bold" text-anchor="end" >SOC</text>
<text x="2746.5" y="614.9" font-family="'Liberation Sans', Arial, sans-serif" font-size="50" font-weight="bold" text-anchor="end" >AGB</text>
<text x="2746.5" y="661.2" font-family="'Liberation Sans', Arial, sans-serif" font-size="50" font-weight="bold" text-anchor="end" >Plant life forms</text>
<text x="2746.5" y="707.4" font-family="'Liberation Sans', Arial, sans-serif" font-size="50" font-weight="bold" text-anchor="end" >Biome</text>
<rect x="2780.2" y="870.5" width="1344.7" height="36.6" fill="#fa9892" />
<rect x="2780.2" y="916.7" width="1257.7" height="36.6" fill="#fa9892" />
<rect x="2780.2" y="962.9" width="1052.7" height="36.6" fill="#f4c98c" />
<rect x="2780.2" y="1009.1" width="275.8" height="36.6" fill="#f7dbb0" />
<rect x="2780.2" y="1055.3" width="234.6" height="36.6" fill="#f7dbb0" />
<rect x="2780.2" y="1101.5" width="233.7" height="36.6" fill="#fdd399" />
<rect x="2780.2" y="1147.6" width="177.3" height="36.6" fill="#fdd399" />
<rect x="2780.2" y="1193.8" width="160.6" height="36.6" fill="#deeefd" />
<rect x="2780.2" y="1240.0" width="138.9" height="36.6" fill="#ccccfb" />
<rect x="2780.2" y="1286.2" width="134.8" height="36.6" fill="#c4dffc" />
<rect x="2780.2" y="1332.4" width="123.5" height="36.6" fill="#cbecb7" />
<rect x="2780.2" y="1378.6" width="110.9" height="36.6" fill="#b9e69c" />
<rect x="2780.2" y="1424.8" width="107.7" height="36.6" fill="#9bcb98" />
<rect x="2780.2" y="1471.0" width="105.9" height="36.6" fill="#9bcb98" />
<line x1="3890.4" y1="849.7" x2="3886.8" y2="1521.2" stroke="#000" stroke-width="4.3" stroke-dasharray="10.3 12.8" stroke-dashoffset="-12.3"/>
<g stroke="#000" stroke-width="3">
<line x1="2778.7" y1="850.2" x2="2778.7" y2="1522.7" stroke="#000" stroke-width="3" />
<line x1="2777.2" y1="851.7" x2="4234.9" y2="851.7" stroke="#000" stroke-width="3" />
<line x1="4233.4" y1="850.2" x2="4233.4" y2="1522.7" stroke="#000" stroke-width="3" />
<line x1="2780.2" y1="1521.2" x2="4234.9" y2="1521.2" stroke="#000" stroke-width="3" />
<line x1="2770.4" y1="866.0" x2="2786.9" y2="866.0" stroke="#000" stroke-width="3" />
<line x1="2770.4" y1="912.2" x2="2786.9" y2="912.2" stroke="#000" stroke-width="3" />
<line x1="2770.4" y1="958.4" x2="2786.9" y2="958.4" stroke="#000" stroke-width="3" />
<line x1="2770.4" y1="1004.6" x2="2786.9" y2="1004.6" stroke="#000" stroke-width="3" />
<line x1="2770.4" y1="1050.8" x2="2786.9" y2="1050.8" stroke="#000" stroke-width="3" />
<line x1="2770.4" y1="1097.0" x2="2786.9" y2="1097.0" stroke="#000" stroke-width="3" />
<line x1="2770.4" y1="1143.1" x2="2786.9" y2="1143.1" stroke="#000" stroke-width="3" />
<line x1="2770.4" y1="1189.3" x2="2786.9" y2="1189.3" stroke="#000" stroke-width="3" />
<line x1="2770.4" y1="1235.5" x2="2786.9" y2="1235.5" stroke="#000" stroke-width="3" />
<line x1="2770.4" y1="1281.7" x2="2786.9" y2="1281.7" stroke="#000" stroke-width="3" />
<line x1="2770.4" y1="1327.9" x2="2786.9" y2="1327.9" stroke="#000" stroke-width="3" />
<line x1="2770.4" y1="1374.1" x2="2786.9" y2="1374.1" stroke="#000" stroke-width="3" />
<line x1="2770.4" y1="1420.3" x2="2786.9" y2="1420.3" stroke="#000" stroke-width="3" />
<line x1="2770.4" y1="1466.5" x2="2786.9" y2="1466.5" stroke="#000" stroke-width="3" />
<line x1="2770.4" y1="1512.7" x2="2786.9" y2="1512.7" stroke="#000" stroke-width="3" />
<line x1="2778.7" y1="1522.7" x2="2778.7" y2="1537.2" stroke="#000" stroke-width="3" />
<line x1="3055.0" y1="1522.7" x2="3055.0" y2="1537.2" stroke="#000" stroke-width="3" />
<line x1="3332.4" y1="1522.7" x2="3332.4" y2="1537.2" stroke="#000" stroke-width="3" />
<line x1="3609.8" y1="1522.7" x2="3609.8" y2="1537.2" stroke="#000" stroke-width="3" />
<line x1="3887.2" y1="1522.7" x2="3887.2" y2="1537.2" stroke="#000" stroke-width="3" />
<line x1="4164.6" y1="1522.7" x2="4164.6" y2="1537.2" stroke="#000" stroke-width="3" />
</g>
<text x="2777.6" y="1616.3" font-family="'Liberation Sans', Arial, sans-serif" font-size="86" font-weight="normal" text-anchor="middle" >0.0</text>
<text x="3055.0" y="1616.3" font-family="'Liberation Sans', Arial, sans-serif" font-size="86" font-weight="normal" text-anchor="middle" >0.2</text>
<text x="3332.4" y="1616.3" font-family="'Liberation Sans', Arial, sans-serif" font-size="86" font-weight="normal" text-anchor="middle" >0.4</text>
<text x="3609.8" y="1616.3" font-family="'Liberation Sans', Arial, sans-serif" font-size="86" font-weight="normal" text-anchor="middle" >0.6</text>
<text x="3887.2" y="1616.3" font-family="'Liberation Sans', Arial, sans-serif" font-size="86" font-weight="normal" text-anchor="middle" >0.8</text>
<text x="4164.6" y="1616.3" font-family="'Liberation Sans', Arial, sans-serif" font-size="86" font-weight="normal" text-anchor="middle" >1.0</text>
<text x="2752.7" y="906.1" font-family="'Liberation Sans', Arial, sans-serif" font-size="50" font-weight="bold" text-anchor="end" >C3/C4</text>
<text x="2752.7" y="952.3" font-family="'Liberation Sans', Arial, sans-serif" font-size="50" font-weight="bold" text-anchor="end" >SOC</text>
<text x="2752.7" y="998.5" font-family="'Liberation Sans', Arial, sans-serif" font-size="50" font-weight="bold" text-anchor="end" >Invasion_duration</text>
<text x="2752.7" y="1044.7" font-family="'Liberation Sans', Arial, sans-serif" font-size="50" font-weight="bold" text-anchor="end" >Plant life forms</text>
<text x="2752.7" y="1090.9" font-family="'Liberation Sans', Arial, sans-serif" font-size="50" font-weight="bold" text-anchor="end" >MAT</text>
<text x="2752.7" y="1137.0" font-family="'Liberation Sans', Arial, sans-serif" font-size="50" font-weight="bold" text-anchor="end" >MAP</text>
<text x="2752.7" y="1183.2" font-family="'Liberation Sans', Arial, sans-serif" font-size="50" font-weight="bold" text-anchor="end" >latitude</text>
<text x="2752.7" y="1229.4" font-family="'Liberation Sans', Arial, sans-serif" font-size="50" font-weight="bold" text-anchor="end" >pH</text>
<text x="2752.7" y="1275.6" font-family="'Liberation Sans', Arial, sans-serif" font-size="50" font-weight="bold" text-anchor="end" >Biome</text>
<text x="2752.7" y="1321.8" font-family="'Liberation Sans', Arial, sans-serif" font-size="50" font-weight="bold" text-anchor="end" >SN</text>
<g font-family="'Liberation Sans', Arial, sans-serif" font-weight="bold"><text x="2573.0" y="1363.5" font-size="50">Soil</text><text x="2677.8" y="1363.5" font-size="41">NH</text><text x="2738.5" y="1375.0" font-size="27">4</text><text x="2753.5" y="1344.9" font-size="27">+</text></g>
<text x="2752.7" y="1414.2" font-family="'Liberation Sans', Arial, sans-serif" font-size="50" font-weight="bold" text-anchor="end" >AGB</text>
<text x="2752.7" y="1460.4" font-family="'Liberation Sans', Arial, sans-serif" font-size="50" font-weight="bold" text-anchor="end" >Soil moisture</text>
<g font-family="'Liberation Sans', Arial, sans-serif" font-weight="bold"><text x="2575.5" y="1515.5" font-size="50">Soil</text><text x="2682.1" y="1515.5" font-size="41">NO</text><text x="2745.7" y="1528.0" font-size="27">3</text><text x="2761.2" y="1500.4" font-size="27">-</text></g>
<rect x="2786.9" y="1693.2" width="708.1" height="37.5" fill="#c8e2fc" />
<rect x="2786.9" y="1739.5" width="394.2" height="37.5" fill="#c8e2fc" />
<rect x="2786.9" y="1785.8" width="385.1" height="37.5" fill="#f7dbb0" />
<rect x="2786.9" y="1832.1" width="364.7" height="37.5" fill="#f6cf98" />
<rect x="2786.9" y="1878.4" width="320.6" height="37.5" fill="#fddfbb" />
<rect x="2786.9" y="1924.7" width="224.1" height="37.5" fill="#fddfbb" />
<rect x="2786.9" y="1971.0" width="193.2" height="37.5" fill="#fdd399" />
<rect x="2786.9" y="2017.3" width="112.7" height="37.5" fill="#deeefd" />
<rect x="2786.9" y="2063.6" width="102.3" height="37.5" fill="#ccccfb" />
<rect x="2786.9" y="2109.9" width="90.9" height="37.5" fill="#d6e7fc" />
<rect x="2786.9" y="2156.2" width="88.1" height="37.5" fill="#b5e39b" />
<rect x="2786.9" y="2202.5" width="87.7" height="37.5" fill="#b5e39b" />
<rect x="2786.9" y="2248.8" width="80.0" height="37.5" fill="#9bcb98" />
<rect x="2786.9" y="2295.1" width="48.1" height="37.5" fill="#9bcb98" />
<line x1="3896.1" y1="1673.4" x2="3896.1" y2="2346.4" stroke="#000" stroke-width="4.3" stroke-dasharray="10.3 12.8" stroke-dashoffset="-16.6"/>
<g stroke="#000" stroke-width="3">
<line x1="2781.4" y1="1674.0" x2="2781.4" y2="2347.8" stroke="#000" stroke-width="3" />
<line x1="2785.6" y1="1675.4" x2="4243.2" y2="1675.4" stroke="#000" stroke-width="3" />
<line x1="4241.7" y1="1673.9" x2="4241.7" y2="2347.9" stroke="#000" stroke-width="3" />
<line x1="2782.9" y1="2346.4" x2="4243.2" y2="2346.4" stroke="#000" stroke-width="3" />
<line x1="2773.4" y1="1689.4" x2="2789.9" y2="1689.4" stroke="#000" stroke-width="3" />
<line x1="2773.4" y1="1735.7" x2="2789.9" y2="1735.7" stroke="#000" stroke-width="3" />
<line x1="2773.4" y1="1782.0" x2="2789.9" y2="1782.0" stroke="#000" stroke-width="3" />
<line x1="2773.4" y1="1828.3" x2="2789.9" y2="1828.3" stroke="#000" stroke-width="3" />
<line x1="2773.4" y1="1874.6" x2="2789.9" y2="1874.6" stroke="#000" stroke-width="3" />
<line x1="2773.4" y1="1920.9" x2="2789.9" y2="1920.9" stroke="#000" stroke-width="3" />
<line x1="2773.4" y1="1967.2" x2="2789.9" y2="1967.2" stroke="#000" stroke-width="3" />
<line x1="2773.4" y1="2013.5" x2="2789.9" y2="2013.5" stroke="#000" stroke-width="3" />
<line x1="2773.4" y1="2059.8" x2="2789.9" y2="2059.8" stroke="#000" stroke-width="3" />
<line x1="2773.4" y1="2106.1" x2="2789.9" y2="2106.1" stroke="#000" stroke-width="3" />
<line x1="2773.4" y1="2152.4" x2="2789.9" y2="2152.4" stroke="#000" stroke-width="3" />
<line x1="2773.4" y1="2198.7" x2="2789.9" y2="2198.7" stroke="#000" stroke-width="3" />
<line x1="2773.4" y1="2245.0" x2="2789.9" y2="2245.0" stroke="#000" stroke-width="3" />
<line x1="2773.4" y1="2291.3" x2="2789.9" y2="2291.3" stroke="#000" stroke-width="3" />
<line x1="2773.4" y1="2337.6" x2="2789.9" y2="2337.6" stroke="#000" stroke-width="3" />
<line x1="2786.0" y1="2347.9" x2="2786.0" y2="2361.9" stroke="#000" stroke-width="3" />
<line x1="3063.4" y1="2347.9" x2="3063.4" y2="2361.9" stroke="#000" stroke-width="3" />
<line x1="3340.8" y1="2347.9" x2="3340.8" y2="2361.9" stroke="#000" stroke-width="3" />
<line x1="3618.2" y1="2347.9" x2="3618.2" y2="2361.9" stroke="#000" stroke-width="3" />
<line x1="3895.6" y1="2347.9" x2="3895.6" y2="2361.9" stroke="#000" stroke-width="3" />
<line x1="4173.0" y1="2347.9" x2="4173.0" y2="2361.9" stroke="#000" stroke-width="3" />
</g>
<text x="2786.0" y="2438.6" font-family="'Liberation Sans', Arial, sans-serif" font-size="86" font-weight="normal" text-anchor="middle" >0.0</text>
<text x="3063.4" y="2438.6" font-family="'Liberation Sans', Arial, sans-serif" font-size="86" font-weight="normal" text-anchor="middle" >0.2</text>
<text x="3340.8" y="2438.6" font-family="'Liberation Sans', Arial, sans-serif" font-size="86" font-weight="normal" text-anchor="middle" >0.4</text>
<text x="3618.2" y="2438.6" font-family="'Liberation Sans', Arial, sans-serif" font-size="86" font-weight="normal" text-anchor="middle" >0.6</text>
<text x="3895.6" y="2438.6" font-family="'Liberation Sans', Arial, sans-serif" font-size="86" font-weight="normal" text-anchor="middle" >0.8</text>
<text x="4173.0" y="2438.6" font-family="'Liberation Sans', Arial, sans-serif" font-size="86" font-weight="normal" text-anchor="middle" >1.0</text>
<text x="2756.0" y="1725.7" font-family="'Liberation Sans', Arial, sans-serif" font-size="50" font-weight="bold" text-anchor="end" >SOC</text>
<text x="2756.0" y="1772.0" font-family="'Liberation Sans', Arial, sans-serif" font-size="50" font-weight="bold" text-anchor="end" >MAT</text>
<text x="2756.0" y="1818.3" font-family="'Liberation Sans', Arial, sans-serif" font-size="50" font-weight="bold" text-anchor="end" >C3/C4</text>
<text x="2756.0" y="1864.6" font-family="'Liberation Sans', Arial, sans-serif" font-size="50" font-weight="bold" text-anchor="end" >latitude</text>
<text x="2756.0" y="1910.9" font-family="'Liberation Sans', Arial, sans-serif" font-size="50" font-weight="bold" text-anchor="end" >SN</text>
<text x="2756.0" y="1957.2" font-family="'Liberation Sans', Arial, sans-serif" font-size="50" font-weight="bold" text-anchor="end" >Plant life forms</text>
<text x="2756.0" y="2003.5" font-family="'Liberation Sans', Arial, sans-serif" font-size="50" font-weight="bold" text-anchor="end" >Soil moisture</text>
<text x="2756.0" y="2049.8" font-family="'Liberation Sans', Arial, sans-serif" font-size="50" font-weight="bold" text-anchor="end" >Biome</text>
<g font-family="'Liberation Sans', Arial, sans-serif" font-weight="bold"><text x="2573.0" y="2092.5" font-size="50">Soil</text><text x="2677.8" y="2092.5" font-size="41">NH</text><text x="2738.5" y="2104.3" font-size="27">4</text><text x="2753.5" y="2074.2" font-size="27">+</text></g>
<text x="2756.0" y="2142.4" font-family="'Liberation Sans', Arial, sans-serif" font-size="50" font-weight="bold" text-anchor="end" >MAP</text>
<g font-family="'Liberation Sans', Arial, sans-serif" font-weight="bold"><text x="2574.0" y="2191.0" font-size="50">Soil</text><text x="2680.7" y="2191.0" font-size="41">NO</text><text x="2743.8" y="2202.9" font-size="27">3</text><text x="2759.8" y="2175.7" font-size="27">-</text></g>
<text x="2756.0" y="2235.0" font-family="'Liberation Sans', Arial, sans-serif" font-size="50" font-weight="bold" text-anchor="end" >Invasion_duration</text>
<text x="2756.0" y="2281.3" font-family="'Liberation Sans', Arial, sans-serif" font-size="50" font-weight="bold" text-anchor="end" >pH</text>
<text x="2756.0" y="2327.6" font-family="'Liberation Sans', Arial, sans-serif" font-size="50" font-weight="bold" text-anchor="end" >AGB</text>
<text x="4048.5" y="564.2" font-family="'Liberation Sans', Arial, sans-serif" font-size="101" font-weight="normal" text-anchor="start" letter-spacing="2.4">(b)</text>
<text x="4039.0" y="665.5" font-family="'Liberation Sans', Arial, sans-serif" font-size="81" font-weight="normal" text-anchor="start" >CO</text>
<text x="4159.3" y="688.8" font-family="'Liberation Sans', Arial, sans-serif" font-size="55" font-weight="normal" text-anchor="start" >2</text>
<text x="4074.9" y="1356.6" font-family="'Liberation Sans', Arial, sans-serif" font-size="101" font-weight="normal" text-anchor="start" letter-spacing="3.6">(c)</text>
<text x="4063.5" y="1474.9" font-family="'Liberation Sans', Arial, sans-serif" font-size="81" font-weight="normal" text-anchor="start" >CH</text>
<text x="4179.5" y="1497.0" font-family="'Liberation Sans', Arial, sans-serif" font-size="55" font-weight="normal" text-anchor="start" >4</text>
<text x="4068.3" y="2181.3" font-family="'Liberation Sans', Arial, sans-serif" font-size="101" font-weight="normal" text-anchor="start" letter-spacing="3.2">(d)</text>
<text x="4074.0" y="2303.5" font-family="'Liberation Sans', Arial, sans-serif" font-size="81" font-weight="normal" text-anchor="start" >N</text>
<text x="4131.0" y="2326.0" font-family="'Liberation Sans', Arial, sans-serif" font-size="55" font-weight="normal" text-anchor="start" >2</text>
<text x="4162.5" y="2303.5" font-family="'Liberation Sans', Arial, sans-serif" font-size="81" font-weight="normal" text-anchor="start" >O</text>
<text x="3207.5" y="2524.0" font-family="'Liberation Sans', Arial, sans-serif" font-size="71.5" font-weight="normal" text-anchor="start" >Sum of Akaike weights</text>
</svg>
</body></html>
